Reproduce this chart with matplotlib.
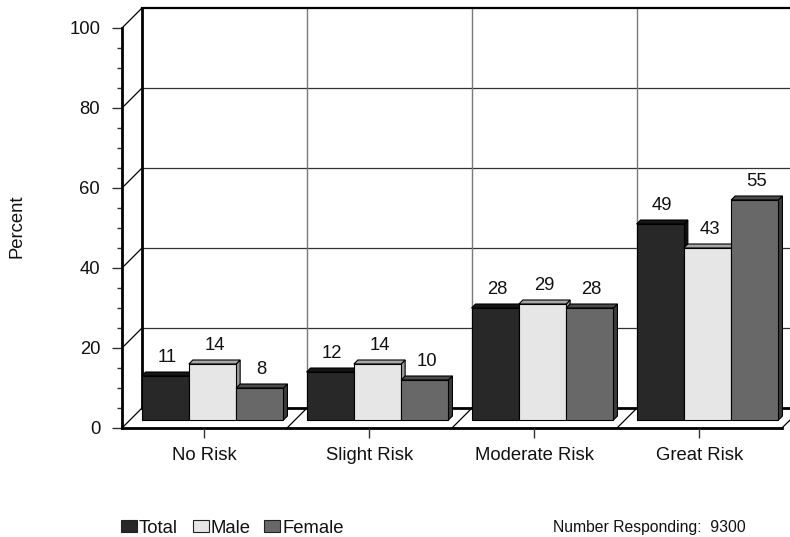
import matplotlib
matplotlib.use("Agg")
import matplotlib.pyplot as plt
from matplotlib.patches import Polygon, Rectangle
from matplotlib.ticker import FixedLocator

plt.rcParams["font.family"] = ["Liberation Sans", "DejaVu Sans"]

# Survey results (percent of respondents)
categories = ["No Risk", "Slight Risk", "Moderate Risk", "Great Risk"]
series_names = ["Total", "Male", "Female"]
total = [11, 12, 28, 49]
male = [14, 14, 29, 43]
female = [8, 10, 28, 55]
y_ticks = [0, 20, 40, 60, 80, 100]
n_responding = 9300

series = [total, male, female]
face_colors = ["#282828", "#e6e6e6", "#686868"]
top_colors = ["#161616", "#a8a8a8", "#4c4c4c"]
side_colors = ["#101010", "#9a9a9a", "#3c3c3c"]

FS = 13.3
W, H, DPI = 790, 537, 100
fig = plt.figure(figsize=(W / DPI, H / DPI), dpi=DPI)

# axes geometry in pixels
ax_left, ax_right, ax_bottom_px = 122, 790, 428
px_per_cat = 165.0
px_per_unit = 4.0
ymax = 106
ax = fig.add_axes([ax_left / W, (H - ax_bottom_px) / H,
                   (ax_right - ax_left) / W, ymax * px_per_unit / H])
ax.set_xlim(0, (ax_right - ax_left) / px_per_cat)
ax.set_ylim(0, ymax)

# depth of the box (20 px back)
DX = 20 / px_per_cat
DY = 20 / px_per_unit
# bars sit mid-depth
SX = 8 / px_per_cat
SY = 8 / px_per_unit
# visible bar depth
TX = 4 / px_per_cat
TY = 4 / px_per_unit

ncat = len(categories)
grid_kw = dict(zorder=0.5)

# back wall
ax.add_patch(Polygon([(DX, DY), (ncat + DX, DY), (ncat + DX, 100 + DY), (DX, 100 + DY)],
                     closed=True, facecolor="white", edgecolor="none", zorder=0.2))
for t in y_ticks[1:-1]:
    ax.plot([DX, ncat + DX], [t + DY, t + DY], color="#333333", lw=0.9, **grid_kw)
for k in range(1, ncat + 1):
    ax.plot([k + DX, k + DX], [DY, 100 + DY], color="#7a7a7a", lw=1.0, **grid_kw)
ax.plot([DX, ncat + DX], [100 + DY, 100 + DY], color="black", lw=1.6, zorder=0.6)
ax.plot([DX, DX], [DY, 100 + DY], color="black", lw=2.0, zorder=0.6)

# left side wall diagonals
for t in y_ticks:
    ax.plot([0, DX], [t, t + DY], color="black", lw=0.9, zorder=0.6)

# floor
ax.plot([DX, ncat + DX], [DY, DY], color="black", lw=2.0, zorder=0.6)
ax.plot([0, ncat], [0, 0], color="black", lw=2.0, zorder=0.6, clip_on=False)
for k in range(1, ncat + 1):
    ax.plot([k, k + DX], [0, DY], color="black", lw=0.9, zorder=0.6)

# bars
nser = len(series)
bw = 47.3 / px_per_cat
margin = (1 - nser * bw) / 2
for i in range(ncat):
    for j, vals in enumerate(series):
        v = vals[i]
        x0 = i + margin + j * bw + SX
        y0 = SY
        front = [(x0, y0), (x0 + bw, y0), (x0 + bw, y0 + v), (x0, y0 + v)]
        top = [(x0, y0 + v), (x0 + bw, y0 + v), (x0 + bw + TX, y0 + v + TY), (x0 + TX, y0 + v + TY)]
        side = [(x0 + bw, y0), (x0 + bw + TX, y0 + TY), (x0 + bw + TX, y0 + v + TY), (x0 + bw, y0 + v)]
        for poly, col in ((side, side_colors[j]), (top, top_colors[j]), (front, face_colors[j])):
            ax.add_patch(Polygon(poly, closed=True, facecolor=col, edgecolor="black",
                                 lw=0.8, joinstyle="miter", zorder=2 + i * 0.1 + j * 0.01))
        ax.text(x0 + bw / 2 + TX / 2, y0 + v + 3.4, str(v), ha="center", va="baseline",
                fontsize=FS, color="#111111", zorder=5)

# axes styling
for s in ("top", "right", "bottom"):
    ax.spines[s].set_visible(False)
ax.spines["left"].set_bounds(0, 100)
ax.spines["left"].set_linewidth(2.0)
ax.spines["left"].set_zorder(3)
ax.set_yticks(y_ticks)
ax.yaxis.set_minor_locator(FixedLocator([t for t in range(0, 101, 5) if t % 20]))
ax.tick_params(axis="y", which="major", length=7.2, width=1.0, color="#333333",
               pad=8.5, labelsize=FS, labelcolor="#111111")
ax.tick_params(axis="y", which="minor", length=3.6, width=1.0, color="#333333")
ax.set_xticks([i + 0.5 for i in range(ncat)])
ax.set_xticklabels(categories)
ax.tick_params(axis="x", which="major", length=7.0, width=1.0, color="#333333",
               pad=7.0, labelsize=FS, labelcolor="#111111")
ax.set_facecolor("none")

fig.text(17 / W, 1 - 226 / H, "Percent", rotation=90, ha="center", va="center",
         fontsize=FS, color="#111111")

# legend
leg_x = [121, 193, 264]
for name, col, lx in zip(series_names, face_colors, leg_x):
    fig.patches.append(Rectangle((lx / W, 1 - 532 / H), 16 / W, 12 / H,
                                 transform=fig.transFigure, facecolor=col,
                                 edgecolor="#222222", lw=0.8))
    fig.text((lx + 18) / W, 1 - 533 / H, name, ha="left", va="baseline",
             fontsize=FS, color="#111111")

fig.text(553 / W, 1 - 532 / H, f"Number Responding:  {n_responding}", ha="left",
         va="baseline", fontsize=11.3, color="#111111")

fig.savefig("out.png", dpi=DPI, facecolor="white")
